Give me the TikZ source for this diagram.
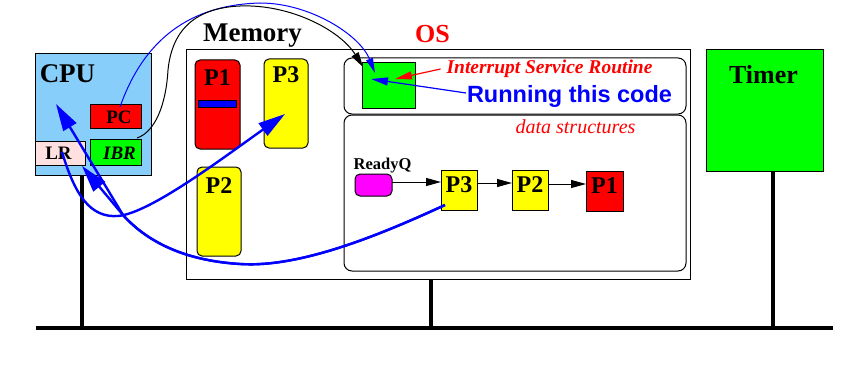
\documentclass[tikz,border=0pt]{standalone}
\usepackage{fontspec}
\setmainfont{Liberation Serif}
\newfontfamily\sansf{Liberation Sans}
\usetikzlibrary{arrows.meta,calc}
\definecolor{cpublue}{RGB}{135,206,250}
\definecolor{lrpink}{RGB}{255,224,224}
\definecolor{fgreen}{RGB}{0,255,0}
\definecolor{fred}{RGB}{255,0,0}
\definecolor{fyellow}{RGB}{255,255,0}
\definecolor{fmagenta}{RGB}{255,0,255}
\definecolor{fblue}{RGB}{0,0,255}
\newcommand\myfs[1]{\fontsize{#1}{#1}\selectfont}
\begin{document}
\begin{tikzpicture}[x=1pt,y=-1pt,
  box/.style={draw=black, line width=1pt, inner sep=0pt, outer sep=0pt},
  rbox/.style={box, rounded corners=5pt},
  lbl/.style={anchor=base, inner sep=0pt, outer sep=0pt},
  bus/.style={line width=4pt},
  thickblue/.style={draw=fblue, line width=2.4pt, -{Triangle[length=27pt,width=15pt]}},
  thinblue/.style={draw=fblue, line width=1pt, -{Triangle[length=15pt,width=7pt]}},
  thinblack/.style={draw=black, line width=1pt, -{Triangle[length=15pt,width=8pt]}},
  qarrow/.style={draw=black, line width=1pt, -{Triangle[length=15pt,width=8pt]}},
  redarrow/.style={draw=fred, line width=1.2pt, -{Triangle[length=17pt,width=8pt]}},
  runarrow/.style={draw=fblue, line width=1.2pt, -{Triangle[length=17pt,width=8pt]}}
]
\useasboundingbox (0,0) rectangle (854,369);

% bus
\coordinate (busL) at (36,328);
\coordinate (busR) at (833,328);
\coordinate (cpuTap) at (82,328);
\coordinate (memTap) at (430.5,328);
\coordinate (timTap) at (773,328);

% CPU
\node[box, fill=cpublue, minimum width=116pt, minimum height=121pt] (cpu) at (93,114.5) {};
\node[box, fill=fred, minimum width=51pt, minimum height=24pt] (pc) at (115.5,116) {};
\node[box, fill=fgreen, minimum width=51pt, minimum height=26pt] (ibr) at (115.5,152) {};
\node[box, fill=lrpink, minimum width=50pt, minimum height=24pt] (lr) at (60,153) {};
\node[lbl, font=\myfs{27}\bfseries] (cpulbl) at (67.5,82) {CPU};
\node[lbl, font=\myfs{19}\bfseries] (pclbl) at (119,123) {PC};
\node[lbl, font=\myfs{19}\bfseries\itshape] (ibrlbl) at (119.5,159) {IBR};
\node[lbl, font=\myfs{19}\bfseries] (lrlbl) at (58.5,159) {LR};

% Memory
\node[box, minimum width=504pt, minimum height=229pt] (mem) at (438,164.5) {};
\node[lbl, font=\myfs{27}\bfseries] (memlbl) at (252.5,42) {Memory};
\node[lbl, font=\myfs{26}\bfseries, text=fred] (oslbl) at (432.5,43) {OS};

\node[rbox, fill=fred, minimum width=45pt, minimum height=89pt] (mp1) at (217.5,104.5) {};
\node[box, fill=fblue, minimum width=38pt, minimum height=7pt] (bar) at (217,103.5) {};
\node[rbox, fill=fyellow, minimum width=44pt, minimum height=89pt] (mp3) at (286,103.5) {};
\node[rbox, fill=fyellow, minimum width=44pt, minimum height=89pt] (mp2) at (219,211.5) {};
\node[lbl, font=\myfs{24}\bfseries] (mp1lbl) at (217.5,85) {P1};
\node[lbl, font=\myfs{24}\bfseries] (mp3lbl) at (286,82) {P3};
\node[lbl, font=\myfs{24}\bfseries] (mp2lbl) at (219,193) {P2};

% OS parts
\node[box, rounded corners=8pt, minimum width=342pt, minimum height=56pt] (isrbox) at (515,86) {};
\node[box, rounded corners=8pt, minimum width=342pt, minimum height=156pt] (dsbox) at (515,193) {};
\node[box, fill=fgreen, minimum width=53pt, minimum height=45pt] (isr) at (388.5,85.5) {};
\node[lbl, font=\myfs{19.5}\bfseries\itshape, text=fred] (isrlbl) at (549.5,74) {Interrupt Service Routine};
\node[lbl, font=\sansf\myfs{23.5}\bfseries, text=fblue] (runlbl) at (569.5,102) {Running this code};
\node[lbl, font=\myfs{20}\itshape, text=fred] (dslbl) at (575.5,133) {data structures};
\node[lbl, font=\myfs{16.5}\bfseries] (rqlbl) at (382.5,169) {ReadyQ};

\node[box, fill=fmagenta, rounded corners=5pt, minimum width=37pt, minimum height=22pt] (mq) at (373.5,185) {};
\node[box, fill=fyellow, minimum width=36pt, minimum height=40pt] (qp3) at (459,190) {};
\node[box, fill=fyellow, minimum width=36pt, minimum height=40pt] (qp2) at (530,190) {};
\node[box, fill=fred, minimum width=37pt, minimum height=40pt] (qp1) at (604.5,191) {};
\node[lbl, font=\myfs{24}\bfseries] (qp3lbl) at (459,192) {P3};
\node[lbl, font=\myfs{24}\bfseries] (qp2lbl) at (530,192) {P2};
\node[lbl, font=\myfs{24}\bfseries] (qp1lbl) at (604.5,193) {P1};

\draw[qarrow] ([yshift=3pt]mq.east) -- ([yshift=8pt]qp3.west);
\draw[qarrow] ([yshift=7pt]qp3.east) -- ([yshift=7pt]qp2.west);
\draw[qarrow] ([yshift=6pt]qp2.east) -- ([yshift=7pt]qp1.west);

% Timer
\node[box, fill=fgreen, minimum width=117pt, minimum height=121pt] (timer) at (764.5,110.5) {};
\node[lbl, font=\myfs{26}\bfseries] (timlbl) at (763.5,83) {Timer};

% bus lines
\draw[bus] (busL) -- (busR);
\draw[bus] (cpu.south -| cpuTap) -- (cpuTap);
\draw[bus] (mem.south -| memTap) -- (memTap);
\draw[bus] (timer.south -| timTap) -- (timTap);

% ISR labels arrows
\coordinate (isrTr) at (395,79);
\coordinate (isrTb) at (371,79);
\draw[redarrow] ([xshift=-6pt,yshift=5pt]isrlbl.base west) -- (isrTr);
\draw[runarrow] ([xshift=-1pt,yshift=9pt]runlbl.base west) -- (isrTb);

% curves
\coordinate (pcS) at (120,107);
\coordinate (isrT1) at (375,73);
\coordinate (ibrS) at (137,138);
\coordinate (isrT2) at (363,67);
\coordinate (q3S) at (445,205);
\coordinate (lrT) at (82,166);
\coordinate (cpuT) at (56,104);
\coordinate (lrS) at (62,152);
\coordinate (m3T) at (285,114);

\draw[thinblue] (pcS) .. controls (140,50) and (180,5) .. (260,3) .. controls (310,3) and (360,35) .. (isrT1);
\draw[thinblack] (ibrS) .. controls (155,132) and (166,105) .. (168,70) .. controls (172,30) and (195,8) .. (240,6) .. controls (290,4) and (340,30) .. (isrT2);

\draw[thickblue] (q3S) .. controls (380,235) and (300,268) .. (240,264) .. controls (190,261) and (150,245) .. (123,215) -- (lrT);
\draw[thickblue] (q3S) .. controls (380,235) and (300,268) .. (240,264) .. controls (190,261) and (150,245) .. (123,215) -- (cpuT);
\draw[thickblue] (lrS) .. controls (75,195) and (90,218) .. (118,216) .. controls (150,213) and (220,160) .. (m3T);
\end{tikzpicture}
\end{document}
